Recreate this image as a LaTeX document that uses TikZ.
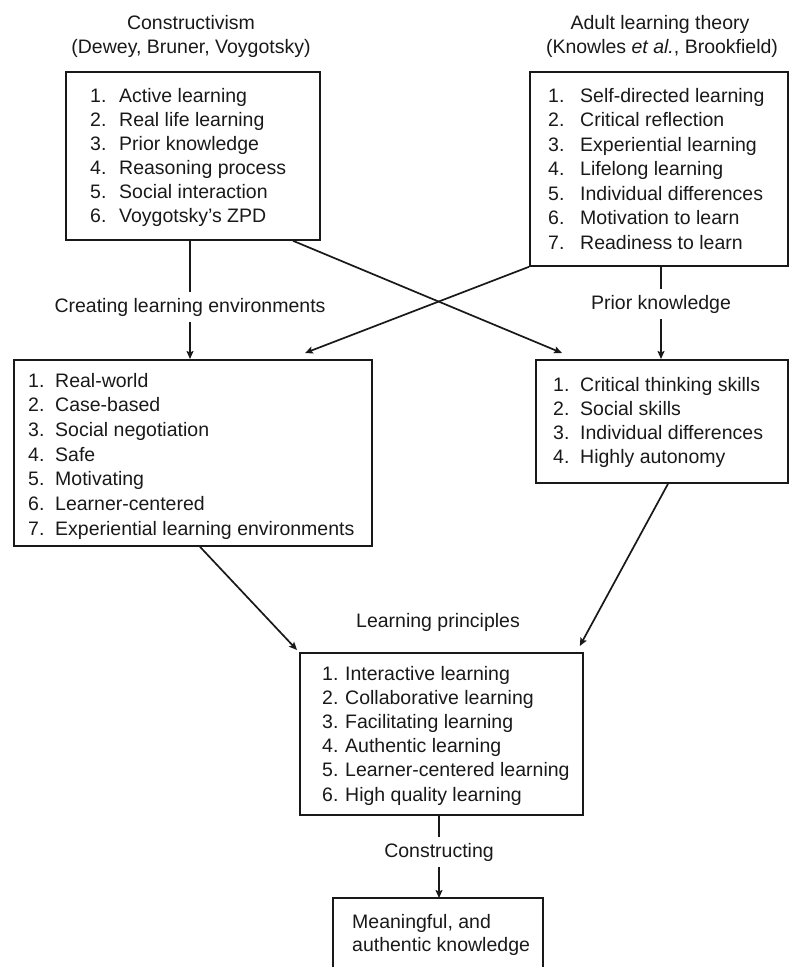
\documentclass[tikz,border=0pt]{standalone}
\usepackage{fontspec}
\setmainfont{Liberation Sans}
\usetikzlibrary{arrows.meta,calc}
\definecolor{ink}{gray}{0.1}
\begin{document}
\begin{tikzpicture}[x=1pt,y=-1pt,
  box/.style={draw=ink, line width=1.8pt, anchor=north west, inner sep=0pt},
  txt/.style={font=\fontsize{19.5}{24}\selectfont, text=ink, inner sep=0pt, anchor=base west},
  ttl/.style={txt, anchor=base},
  lbl/.style={txt, anchor=base, inner xsep=0pt, inner ysep=6pt},
  con/.style={line width=1.7pt, draw=ink},
  arr/.style={con, -{Stealth[length=8pt,width=7pt,inset=1.5pt]}}]
\useasboundingbox (0,0) rectangle (789,967);
% boxes
\node[box, minimum width=254pt, minimum height=168pt] (A) at (65,71) {};
\node[box, minimum width=258pt, minimum height=194pt] (B) at (529,71) {};
\node[box, minimum width=358pt, minimum height=186pt] (C) at (13,359) {};
\node[box, minimum width=252pt, minimum height=123pt] (D) at (535,359) {};
\node[box, minimum width=283pt, minimum height=162pt] (E) at (299,652) {};
% titles
\node[ttl] (tA1) at (191,29) {Constructivism};
\node[ttl] (tA2) at (191,53) {(Dewey, Bruner, Voygotsky)};
\node[ttl] (tB1) at (660,29) {Adult learning theory};
\node[ttl] (tB2) at (662,53) {(Knowles \textit{et al.}, Brookfield)};
\node[ttl] (tE) at (438,627) {Learning principles};
% labels on connectors
\node[lbl] (lblC) at (190,312) {Creating learning environments};
\node[lbl] (lblD) at (661,309) {Prior knowledge};
\node[lbl] (lblF) at (439,857) {Constructing};
% lists
\foreach \t [count=\i] in {Active learning, Real life learning, Prior knowledge, Reasoning process, Social interaction, Voygotsky's ZPD}
  {\node[txt] (an\i) at (90,{102+24*(\i-1)}) {\i.};
   \node[txt] (a\i) at (119,{102+24*(\i-1)}) {\t};}
\foreach \t [count=\i] in {Self-directed learning, Critical reflection, Experiential learning, Lifelong learning, Individual differences, Motivation to learn, Readiness to learn}
  {\node[txt] (bn\i) at (548,{102+24.5*(\i-1)}) {\i.};
   \node[txt] (b\i) at (580,{102+24.5*(\i-1)}) {\t};}
\foreach \t [count=\i] in {Real-world, Case-based, Social negotiation, Safe, Motivating, Learner-centered, Experiential learning environments}
  {\node[txt] (cn\i) at (28,{387+24.7*(\i-1)}) {\i.};
   \node[txt] (c\i) at (55,{387+24.7*(\i-1)}) {\t};}
\foreach \t [count=\i] in {Critical thinking skills, Social skills, Individual differences, Highly autonomy}
  {\node[txt] (dn\i) at (553,{391+24.3*(\i-1)}) {\i.};
   \node[txt] (d\i) at (580,{391+24.3*(\i-1)}) {\t};}
\foreach \t [count=\i] in {Interactive learning, Collaborative learning, Facilitating learning, Authentic learning, Learner-centered learning, High quality learning}
  {\node[txt] (en\i) at (322,{680+24.2*(\i-1)}) {\i.};
   \node[txt] (e\i) at (345,{680+24.2*(\i-1)}) {\t};}
% final box (open at the bottom edge of the picture)
\node[txt] (f1) at (352,928) {Meaningful, and};
\node[txt] (f2) at (352,951) {authentic knowledge};
\coordinate (Fnw) at (333,898);
\coordinate (Fne) at (543,898);
\coordinate (Fsw) at (333,968);
\coordinate (Fse) at (543,968);
\draw[box] (Fsw) -- (Fnw) -- (Fne) -- (Fse);
% connectors
\draw[con] (lblC.north |- A.south) -- (lblC.north);
\draw[arr] (lblC.south) -- (lblC.south |- C.north);
\draw[con] (lblD.north |- B.south) -- (lblD.north);
\draw[arr] (lblD.south) -- (lblD.south |- D.north);
\draw[con] (lblF.north |- E.south) -- (lblF.north);
\draw[arr] (lblF.south) -- (lblF.south |- Fnw);
\draw[arr] ($(A.south west)+(228,0)$) -- ($(D.north west)+(27,-6)$);
\draw[arr] (B.south west) -- ($(C.north west)+(292,-6)$);
\draw[arr] ($(D.south west)+(133,0)$) -- ($(E.north east)+(-4,-6)$);
\draw[arr] ($(C.south west)+(187,0)$) -- ($(E.north west)+(-2,-2)$);
\end{tikzpicture}
\end{document}
